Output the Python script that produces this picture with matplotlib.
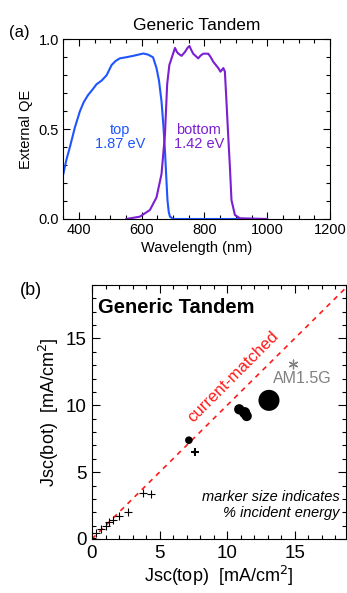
import matplotlib
matplotlib.use("Agg")
import matplotlib.pyplot as plt
from matplotlib.ticker import MultipleLocator

plt.rcParams['font.family'] = ['Liberation Sans', 'DejaVu Sans']

# (a) external QE of the two subcells
wl_top = [350, 360, 371, 387, 403, 415, 429, 443, 456, 472, 488, 504, 517, 530, 550,
          573, 590, 605, 620, 636, 647, 655, 663, 669, 674, 678, 682, 686, 690, 700, 800, 900, 1000]
qe_top = [0.25, 0.33, 0.40, 0.51, 0.60, 0.65, 0.69, 0.72, 0.75, 0.77, 0.80, 0.857, 0.88, 0.894, 0.90,
          0.908, 0.915, 0.921, 0.915, 0.90, 0.84, 0.77, 0.655, 0.52, 0.38, 0.24, 0.105, 0.04, 0.013, 0.0, 0.0, 0.0, 0.0]

wl_bot = [551, 594, 626, 647, 663, 674, 681, 688, 695, 706, 712, 717, 727, 738, 745, 752,
          758, 764, 780, 788, 796, 812, 820, 828, 844, 851, 860, 865, 870, 876, 881, 886, 897, 913, 997]
qe_bot = [0.0, 0.013, 0.05, 0.12, 0.25, 0.47, 0.75, 0.857, 0.894, 0.952, 0.93, 0.92, 0.908, 0.93, 0.95, 0.963,
          0.94, 0.92, 0.894, 0.91, 0.92, 0.92, 0.90, 0.875, 0.84, 0.82, 0.84, 0.82, 0.655, 0.45, 0.29, 0.105, 0.022, 0.004, 0.0]

# (b) subcell currents for each spectrum (small energies -> crosses)
cross_top = [0.02, 0.3, 0.64, 1.0, 1.26, 1.58, 2.0, 2.65, 3.8, 4.4]
cross_bot = [0.08, 0.42, 0.72, 0.97, 1.25, 1.45, 1.75, 2.04, 3.41, 3.33]

dot_top = [7.6, 7.17, 10.9, 11.3, 11.45, 13.1]
dot_bot = [6.5, 7.39, 9.7, 9.45, 9.2, 10.37]
dot_size = [6, 30, 55, 65, 55, 230]

am15_top = 14.9
am15_bot = 13.1

blue = '#1f55ff'
purple = '#7a1fd2'

fig = plt.figure(figsize=(3.47, 5.93), dpi=100)

# ---- panel (a)
ax1 = fig.add_axes([0.1824, 0.6307, 0.7686, 0.303])
ax1.plot(wl_top, qe_top, color=blue, lw=1.5)
ax1.plot(wl_bot, qe_bot, color=purple, lw=1.5)
ax1.set_xlim(350, 1200)
ax1.set_ylim(0, 1.0)
ax1.xaxis.set_major_locator(MultipleLocator(200))
ax1.xaxis.set_minor_locator(MultipleLocator(50))
ax1.yaxis.set_major_locator(MultipleLocator(0.5))
ax1.yaxis.set_minor_locator(MultipleLocator(0.1))
ax1.tick_params(which='both', direction='in', top=True, right=True, labelsize=10.5, width=0.8)
ax1.tick_params(which='major', length=5, pad=3)
ax1.tick_params(which='minor', length=3)
ax1.set_xlabel('Wavelength (nm)', fontsize=10.5, labelpad=3)
ax1.set_ylabel('External QE', fontsize=10.5, labelpad=4)
ax1.set_title('Generic Tandem', fontsize=12.5, pad=7)
ax1.text(0.213, 0.455, 'top\n1.87 eV', color=blue, fontsize=10.5, ha='center', va='center',
         transform=ax1.transAxes, linespacing=1.0)
ax1.text(0.508, 0.455, 'bottom\n1.42 eV', color=purple, fontsize=10.5, ha='center', va='center',
         transform=ax1.transAxes, linespacing=1.0)
fig.text(0.025, 0.945, '(a)', fontsize=12, ha='left', va='center')

# ---- panel (b)
ax2 = fig.add_axes([0.2651, 0.0911, 0.732, 0.4283])
ax2.plot([0, 19], [0, 19], color='#ff1a1a', lw=1.2, ls=(0, (3, 3)))
ax2.scatter(cross_top, cross_bot, marker='+', s=40, color='black', linewidths=0.8, zorder=3)
ax2.scatter(dot_top[:1], dot_bot[:1], marker='+', s=40, color='black', linewidths=1.4, zorder=3)
ax2.scatter(dot_top, dot_bot, s=dot_size, color='black', zorder=3, linewidths=0)
ax2.scatter([am15_top], [am15_bot], marker=(6, 2, 0), s=40, color='#808080', linewidths=0.9, zorder=3)
ax2.text(am15_top + 0.7, am15_bot - 1.1, 'AM1.5G', color='#808080', fontsize=11.5,
         ha='center', va='center')
ax2.text(10.45, 12.1, 'current-matched', color='#ff1a1a', fontsize=12, rotation=45,
         ha='center', va='center', rotation_mode='anchor')
ax2.text(0.025, 0.95, 'Generic Tandem', transform=ax2.transAxes, fontsize=14.5,
         fontweight='bold', ha='left', va='top')
ax2.text(0.975, 0.135, 'marker size indicates\n% incident energy', transform=ax2.transAxes,
         fontsize=10.5, style='italic', ha='right', va='center', linespacing=1.2)
ax2.set_xlim(0, 18.8)
ax2.set_ylim(0, 19)
for axis in (ax2.xaxis, ax2.yaxis):
    axis.set_major_locator(MultipleLocator(5))
    axis.set_minor_locator(MultipleLocator(1))
ax2.tick_params(which='both', direction='in', top=True, right=True, labelsize=13.5, width=0.8)
ax2.tick_params(which='major', length=6, pad=4)
ax2.tick_params(which='minor', length=3)
ax2.set_xlabel('Jsc(top)  [mA/cm$^2$]', fontsize=13, labelpad=2)
ax2.set_ylabel('Jsc(bot)  [mA/cm$^2$]', fontsize=13, labelpad=3)
fig.text(0.058, 0.51, '(b)', fontsize=13, ha='left', va='center')

fig.savefig('out.png', dpi=100)
